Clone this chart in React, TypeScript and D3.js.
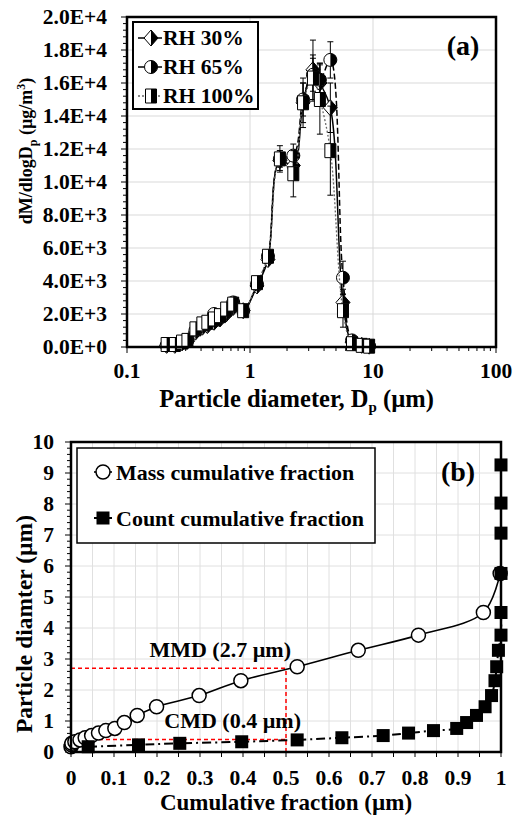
import React, { useEffect, useRef } from 'react';
import * as d3 from 'd3';

const W = 519;
const H = 818;
const FONT = '"Liberation Serif", "Times New Roman", serif';

// ---- panel (a): size distribution ----
const diamA = [0.21, 0.245, 0.28, 0.31, 0.36, 0.41, 0.45, 0.51, 0.57, 0.64, 0.73, 0.88, 1.14, 1.4, 1.75, 2.25, 2.7, 3.25, 3.7, 4.5, 5.7, 6.75, 8.1, 9.3];
const rh30 = [100, 100, 250, 350, 900, 1200, 1300, 1500, 1700, 2000, 2400, 2200, 3700, 5300, 11300, 11000, 14800, 16800, 16000, 14500, 2700, 300, 100, 50];
const rh65 = [100, 150, 300, 400, 1000, 1300, 1400, 2000, 1800, 2100, 2700, 2200, 3800, 5500, 11400, 11600, 15000, 16500, 16200, 17400, 4200, 400, 100, 50];
const rh100 = [150, 150, 300, 400, 1100, 1400, 1500, 1700, 1900, 2300, 2600, 2200, 3900, 5500, 11400, 10500, 14800, 16300, 15000, 11900, 2200, 200, 100, 50];
const err30 = [0, 0, 0, 0, 0, 0, 0, 0, 0, 0, 0, 0, 0, 0, 600, 800, 1200, 1800, 1200, 1500, 800, 300, 0, 0];
const err65 = [0, 0, 0, 0, 0, 0, 0, 0, 0, 0, 0, 0, 0, 0, 500, 700, 1000, 1000, 1000, 1100, 1000, 300, 0, 0];
const err100 = [0, 0, 0, 0, 0, 0, 0, 0, 0, 0, 0, 0, 0, 0, 800, 1400, 1500, 1400, 2100, 2700, 1000, 200, 0, 0];
const seriesNames = ['RH 30%', 'RH 65%', 'RH 100%'];
const yTicksA = [0, 2000, 4000, 6000, 8000, 10000, 12000, 14000, 16000, 18000, 20000];
const yTickLabelsA = ['0.0E+0', '2.0E+3', '4.0E+3', '6.0E+3', '8.0E+3', '1.0E+4', '1.2E+4', '1.4E+4', '1.6E+4', '1.8E+4', '2.0E+4'];
const xTicksA = [0.1, 1, 10, 100];

// ---- panel (b): cumulative fractions ----
const diamB = [0.17, 0.23, 0.28, 0.33, 0.39, 0.46, 0.53, 0.61, 0.69, 0.76, 0.95, 1.18, 1.46, 1.82, 2.3, 2.75, 3.28, 3.77, 4.5, 5.76, 7.06, 8.03, 9.26];
const massFrac = [0.0, 0.001, 0.002, 0.009, 0.021, 0.033, 0.048, 0.064, 0.081, 0.102, 0.124, 0.154, 0.199, 0.298, 0.395, 0.526, 0.668, 0.808, 0.959, 0.998];
const countFrac = [0.04, 0.157, 0.253, 0.397, 0.526, 0.63, 0.726, 0.785, 0.843, 0.897, 0.92, 0.943, 0.963, 0.978, 0.986, 0.99, 0.994, 1, 1, 1, 1, 1, 1];
const xTicksB = [0, 0.1, 0.2, 0.3, 0.4, 0.5, 0.6, 0.7, 0.8, 0.9, 1];
const xTickLabelsB = ['0', '0.1', '0.2', '0.3', '0.4', '0.5', '0.6', '0.7', '0.8', '0.9', '1'];
const yTicksB = [0, 1, 2, 3, 4, 5, 6, 7, 8, 9, 10];
const mmd = 2.7;
const cmd = 0.4;
const medianFrac = 0.5;

type Sel = d3.Selection<any, any, any, any>;

function halfMarker(g: Sel, shape: string, x: number, y: number) {
  let full = '';
  let half = '';
  if (shape === 'diamond') {
    const w = 7, h = 8;
    full = `M${x},${y - h}L${x + w},${y}L${x},${y + h}L${x - w},${y}Z`;
    half = `M${x},${y - h}L${x + w},${y}L${x},${y + h}Z`;
  } else if (shape === 'circle') {
    const r = 6.5;
    full = `M${x},${y - r}A${r},${r} 0 1 1 ${x},${y + r}A${r},${r} 0 1 1 ${x},${y - r}Z`;
    half = `M${x},${y - r}A${r},${r} 0 0 1 ${x},${y + r}Z`;
  } else {
    const w = 5.5, h = 7;
    full = `M${x - w},${y - h}H${x + w}V${y + h}H${x - w}Z`;
    half = `M${x},${y - h}H${x + w}V${y + h}H${x}Z`;
  }
  g.append('path').attr('d', full).attr('fill', '#fff');
  g.append('path').attr('d', half).attr('fill', '#000');
  g.append('path').attr('d', full).attr('fill', 'none').attr('stroke', '#000').attr('stroke-width', 1);
}

function drawA(svg: Sel) {
  const x = d3.scaleLog().domain([0.1, 100]).range([127, 496]);
  const y = d3.scaleLinear().domain([0, 20000]).range([347, 17]);
  const g = svg.append('g');
  const [x0, x1] = x.range();
  const [y0, y1] = y.range();

  // grid
  g.selectAll('.hg').data(yTicksA.slice(1)).enter().append('line')
    .attr('x1', x0).attr('x2', x1).attr('y1', d => y(d)).attr('y2', d => y(d))
    .attr('stroke', '#d9d9d9').attr('stroke-width', 1);
  g.selectAll('.vg').data([1, 10]).enter().append('line')
    .attr('x1', d => x(d)).attr('x2', d => x(d)).attr('y1', y0).attr('y2', y1)
    .attr('stroke', '#d9d9d9').attr('stroke-width', 1);

  // ticks
  const minorY = d3.range(0, 20001, 400);
  g.selectAll('.my').data(minorY).enter().append('line')
    .attr('x1', x0).attr('x2', d => (d % 2000 === 0 ? x0 - 6 : x0 - 4))
    .attr('y1', d => y(d)).attr('y2', d => y(d)).attr('stroke', '#000').attr('stroke-width', 1);
  const minorX: number[] = [];
  [0.1, 1, 10].forEach(b => d3.range(1, 10).forEach(k => minorX.push(b * k)));
  minorX.push(100);
  g.selectAll('.mx').data(minorX).enter().append('line')
    .attr('x1', d => x(d)).attr('x2', d => x(d)).attr('y1', y0)
    .attr('y2', d => (xTicksA.some(t => Math.abs(t - d) < 1e-9) ? y0 + 6 : y0 + 4))
    .attr('stroke', '#000').attr('stroke-width', 1);

  // tick labels
  g.selectAll('.yl').data(yTicksA).enter().append('text')
    .attr('x', x0 - 20).attr('y', d => y(d) + 7).attr('text-anchor', 'end')
    .style('font-family', FONT).style('font-weight', 'bold').style('font-size', '21.5px')
    .text((d, i) => yTickLabelsA[i]);
  g.selectAll('.xl').data(xTicksA).enter().append('text')
    .attr('x', d => x(d)).attr('y', 378).attr('text-anchor', 'middle')
    .style('font-family', FONT).style('font-weight', 'bold').style('font-size', '21.5px')
    .text(d => String(d));

  // series
  const sets = [
    { v: rh30, e: err30, shape: 'diamond', dash: null, color: '#000', width: 1.5 },
    { v: rh65, e: err65, shape: 'circle', dash: '6,3', color: '#000', width: 1.5 },
    { v: rh100, e: err100, shape: 'square', dash: '2,2', color: '#666', width: 1.3 },
  ];
  const line = d3.line<number>()
    .x((d, i) => x(diamA[i]))
    .y(d => y(d))
    .curve(d3.curveCatmullRom.alpha(0.5));
  sets.forEach(s => {
    const sg = g.append('g');
    sg.append('path').attr('d', line(s.v) || '').attr('fill', 'none')
      .attr('stroke', s.color).attr('stroke-width', s.width)
      .attr('stroke-dasharray', s.dash);
    s.v.forEach((v, i) => {
      if (!s.e[i]) return;
      const cx = x(diamA[i]);
      sg.append('line').attr('x1', cx).attr('x2', cx).attr('y1', y(v - s.e[i])).attr('y2', y(v + s.e[i]))
        .attr('stroke', '#000').attr('stroke-width', 1);
      [v - s.e[i], v + s.e[i]].forEach(ev => {
        sg.append('line').attr('x1', cx - 3).attr('x2', cx + 3).attr('y1', y(ev)).attr('y2', y(ev))
          .attr('stroke', '#000').attr('stroke-width', 1);
      });
    });
    s.v.forEach((v, i) => halfMarker(sg, s.shape, x(diamA[i]), y(v)));
  });

  // frame
  g.append('rect').attr('x', x0).attr('y', y1).attr('width', x1 - x0).attr('height', y0 - y1)
    .attr('fill', 'none').attr('stroke', '#000').attr('stroke-width', 2.5);

  // legend
  const lg = g.append('g');
  lg.append('rect').attr('x', 133).attr('y', 22).attr('width', 125).attr('height', 87)
    .attr('fill', '#fff').attr('stroke', '#000').attr('stroke-width', 2);
  sets.forEach((s, i) => {
    const ly = 38 + i * 29;
    lg.append('line').attr('x1', 138).attr('x2', 162).attr('y1', ly).attr('y2', ly)
      .attr('stroke', s.color).attr('stroke-width', s.width).attr('stroke-dasharray', s.dash);
    halfMarker(lg, s.shape, 151, ly);
    lg.append('text').attr('x', 163).attr('y', ly + 7)
      .style('font-family', FONT).style('font-weight', 'bold').style('font-size', '21.5px')
      .text(seriesNames[i]);
  });

  g.append('text').attr('x', 463).attr('y', 55).attr('text-anchor', 'middle')
    .style('font-family', FONT).style('font-weight', 'bold').style('font-size', '28px').text('(a)');

  // axis titles
  const xt = g.append('text').attr('x', (x0 + x1) / 2 - 15).attr('y', 407).attr('text-anchor', 'middle')
    .style('font-family', FONT).style('font-weight', 'bold').style('font-size', '24.5px');
  xt.append('tspan').text('Particle diameter, D');
  xt.append('tspan').attr('dy', 5).style('font-size', '15px').text('p');
  xt.append('tspan').attr('dy', -5).text(' (µm)');

  const yt = g.append('text').attr('transform', 'translate(32,151) rotate(-90)').attr('text-anchor', 'middle')
    .style('font-family', FONT).style('font-weight', 'bold').style('font-size', '18px');
  yt.append('tspan').text('dM/dlogD');
  yt.append('tspan').attr('dy', 5).style('font-size', '12px').text('p');
  yt.append('tspan').attr('dy', -5).text(' (µg/m');
  yt.append('tspan').attr('dy', -7).style('font-size', '12px').text('3');
  yt.append('tspan').attr('dy', 7).text(')');
}

function drawB(svg: Sel) {
  const x = d3.scaleLinear().domain([0, 1]).range([71, 501]);
  const y = d3.scaleLinear().domain([0, 10]).range([752, 442]);
  const g = svg.append('g');
  const [x0, x1] = x.range();
  const [y0, y1] = y.range();

  // grid
  g.selectAll('.vg').data(d3.range(1, 20).map(i => i * 0.05)).enter().append('line')
    .attr('x1', d => x(d)).attr('x2', d => x(d)).attr('y1', y0).attr('y2', y1)
    .attr('stroke', '#e0e0e0').attr('stroke-width', 1);
  g.selectAll('.hg').data(yTicksB.slice(1, -1)).enter().append('line')
    .attr('x1', x0).attr('x2', x1).attr('y1', d => y(d)).attr('y2', d => y(d))
    .attr('stroke', '#e0e0e0').attr('stroke-width', 1);

  // ticks
  g.selectAll('.my').data(d3.range(0, 51).map(i => i * 0.2)).enter().append('line')
    .attr('x1', x0).attr('x2', (d, i) => (i % 5 === 0 ? x0 - 6 : x0 - 4))
    .attr('y1', d => y(d)).attr('y2', d => y(d)).attr('stroke', '#000').attr('stroke-width', 1);
  g.selectAll('.mx').data(d3.range(0, 21).map(i => i * 0.05)).enter().append('line')
    .attr('x1', d => x(d)).attr('x2', d => x(d)).attr('y1', y0).attr('y2', y0 + 5)
    .attr('stroke', '#000').attr('stroke-width', 1);

  g.selectAll('.yl').data(yTicksB).enter().append('text')
    .attr('x', x0 - 17).attr('y', d => y(d) + 7).attr('text-anchor', 'end')
    .style('font-family', FONT).style('font-weight', 'bold').style('font-size', '21.5px')
    .text(d => String(d));
  g.selectAll('.xl').data(xTicksB).enter().append('text')
    .attr('x', d => x(d)).attr('y', 785).attr('text-anchor', 'middle')
    .style('font-family', FONT).style('font-weight', 'bold').style('font-size', '21.5px')
    .text((d, i) => xTickLabelsB[i]);

  // median guide lines
  const red = g.append('g').attr('stroke', '#ff0000').attr('stroke-width', 1.5).attr('stroke-dasharray', '4,3');
  red.append('line').attr('x1', x(0)).attr('x2', x(medianFrac)).attr('y1', y(mmd)).attr('y2', y(mmd));
  red.append('line').attr('x1', x(medianFrac)).attr('x2', x(medianFrac)).attr('y1', y(0)).attr('y2', y(mmd));
  red.append('line').attr('x1', x(0)).attr('x2', x(medianFrac)).attr('y1', y(cmd)).attr('y2', y(cmd));

  // mass cumulative
  const massPts = massFrac.map((f, i) => [x(f), y(diamB[i])] as [number, number]);
  g.append('path').attr('d', d3.line().curve(d3.curveCatmullRom.alpha(0.5))(massPts) || '')
    .attr('fill', 'none').attr('stroke', '#000').attr('stroke-width', 1.6);
  massPts.forEach(p => {
    g.append('circle').attr('cx', p[0]).attr('cy', p[1]).attr('r', 7)
      .attr('fill', '#fff').attr('stroke', '#000').attr('stroke-width', 1.5);
  });

  // count cumulative
  const countPts = countFrac.map((f, i) => [x(f), y(diamB[i])] as [number, number]);
  g.append('path').attr('d', d3.line().curve(d3.curveCatmullRom.alpha(0.5))(countPts) || '')
    .attr('fill', 'none').attr('stroke', '#000').attr('stroke-width', 2)
    .attr('stroke-dasharray', '9,4,2,4');
  countPts.forEach(p => {
    g.append('rect').attr('x', p[0] - 6.5).attr('y', p[1] - 6.5).attr('width', 13).attr('height', 13)
      .attr('fill', '#000');
  });

  // annotations
  g.append('text').attr('x', x(medianFrac) + 5).attr('y', y(mmd) - 11).attr('text-anchor', 'end')
    .style('font-family', FONT).style('font-weight', 'bold').style('font-size', '22px').text('MMD (2.7 µm)');
  g.append('text').attr('x', x(medianFrac) + 15).attr('y', y(cmd) - 12).attr('text-anchor', 'end')
    .style('font-family', FONT).style('font-weight', 'bold').style('font-size', '22px').text('CMD (0.4 µm)');

  // frame
  g.append('rect').attr('x', x0).attr('y', y1).attr('width', x1 - x0).attr('height', y0 - y1)
    .attr('fill', 'none').attr('stroke', '#000').attr('stroke-width', 2.5);

  // legend
  const lg = g.append('g');
  lg.append('rect').attr('x', 77).attr('y', 448).attr('width', 298).attr('height', 95)
    .attr('fill', '#fff').attr('stroke', '#000').attr('stroke-width', 1.5);
  lg.append('line').attr('x1', 94).attr('x2', 112).attr('y1', 472).attr('y2', 472)
    .attr('stroke', '#000').attr('stroke-width', 1.6);
  lg.append('circle').attr('cx', 103).attr('cy', 472).attr('r', 7)
    .attr('fill', '#fff').attr('stroke', '#000').attr('stroke-width', 1.5);
  lg.append('line').attr('x1', 94).attr('x2', 112).attr('y1', 518).attr('y2', 518)
    .attr('stroke', '#000').attr('stroke-width', 2);
  lg.append('rect').attr('x', 96.5).attr('y', 511.5).attr('width', 13).attr('height', 13).attr('fill', '#000');
  lg.append('text').attr('x', 116).attr('y', 480)
    .style('font-family', FONT).style('font-weight', 'bold').style('font-size', '22px')
    .text('Mass cumulative fraction');
  lg.append('text').attr('x', 116).attr('y', 526)
    .style('font-family', FONT).style('font-weight', 'bold').style('font-size', '22px')
    .text('Count cumulative fraction');

  g.append('text').attr('x', 458).attr('y', 481).attr('text-anchor', 'middle')
    .style('font-family', FONT).style('font-weight', 'bold').style('font-size', '28px').text('(b)');

  // axis titles
  g.append('text').attr('x', (x0 + x1) / 2).attr('y', 810).attr('text-anchor', 'middle')
    .style('font-family', FONT).style('font-weight', 'bold').style('font-size', '23px')
    .text('Cumulative fraction (µm)');
  g.append('text').attr('transform', 'translate(32,624) rotate(-90)').attr('text-anchor', 'middle')
    .style('font-family', FONT).style('font-weight', 'bold').style('font-size', '23.5px')
    .text('Particle diamter (µm)');
}

const App = () => {
  const ref = useRef<SVGSVGElement>(null);

  useEffect(() => {
    const svg = d3.select(ref.current);
    svg.selectAll('*').remove();
    drawA(svg as Sel);
    drawB(svg as Sel);
  }, []);

  return (
    <svg
      ref={ref}
      width={W}
      height={H}
      style={{ position: 'absolute', left: 0, top: 0, background: '#fff' }}
    />
  );
};

export default App;
